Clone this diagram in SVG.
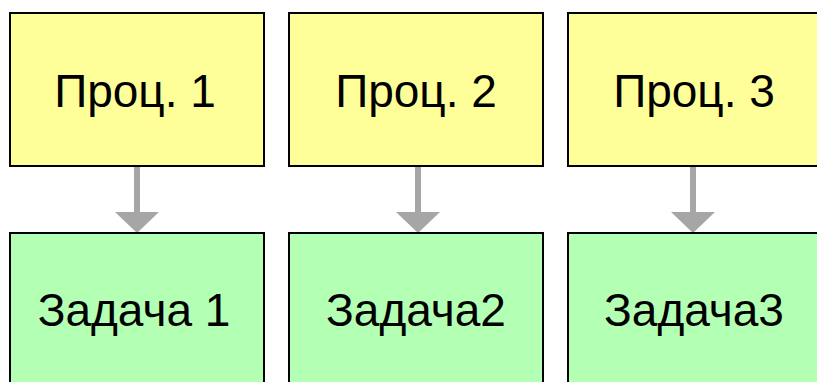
<svg xmlns="http://www.w3.org/2000/svg" width="817" height="382" viewBox="0 0 817 382">
<defs>
<style>
.p{fill:#FFFF99;stroke:#000;stroke-width:2}
.t{fill:#B3FFB3;stroke:#000;stroke-width:2}
.lbl{font-family:"Liberation Sans",Arial,sans-serif;font-size:46px;fill:#000;text-anchor:middle}
.sh{stroke:#A6A6A6;stroke-width:6;fill:none}
.hd{fill:#A6A6A6}
</style>
</defs>
<rect width="817" height="382" fill="#fff"/>
<g id="connectors">
<line class="sh" x1="137" y1="167" x2="137" y2="213"/>
<polygon class="hd" points="115,212 159,212 137,233"/>
<line class="sh" x1="418" y1="167" x2="418" y2="213"/>
<polygon class="hd" points="396,212 440,212 418,233"/>
<line class="sh" x1="693" y1="167" x2="693" y2="213"/>
<polygon class="hd" points="671,212 715,212 693,233"/>
</g>
<g id="proc1"><rect class="p" x="10" y="13" width="254" height="153"/><text class="lbl" x="135" y="107">Проц. 1</text></g>
<g id="proc2"><rect class="p" x="289" y="13" width="254" height="153"/><text class="lbl" x="416" y="107">Проц. 2</text></g>
<g id="proc3"><rect class="p" x="568" y="13" width="254" height="153"/><text class="lbl" x="694" y="107">Проц. 3</text></g>
<g id="task1"><rect class="t" x="10" y="233" width="254" height="160"/><text class="lbl" x="134" y="326">Задача 1</text></g>
<g id="task2"><rect class="t" x="289" y="233" width="254" height="160"/><text class="lbl" x="416" y="326">Задача2</text></g>
<g id="task3"><rect class="t" x="568" y="233" width="254" height="160"/><text class="lbl" x="694" y="326">Задача3</text></g>
</svg>
